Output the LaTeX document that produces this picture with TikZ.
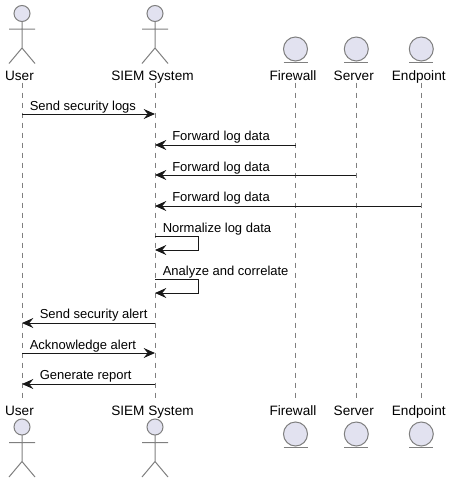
\documentclass[tikz,border=0pt]{standalone}
\usepackage{fontspec}
\setmainfont{Liberation Sans}
\usetikzlibrary{arrows.meta,positioning}

\definecolor{partfill}{HTML}{E2E2F0}
\definecolor{partline}{HTML}{7F7F7F}
\definecolor{msgline}{HTML}{181818}

\begin{document}
\begin{tikzpicture}[
    x=0.75pt, y=-0.75pt,
    partlabel/.style={inner sep=0pt, anchor=base, xshift=-1.9pt, font=\fontsize{10.2}{12}\selectfont},
    msglabel/.style={inner sep=0pt, anchor=base west, font=\fontsize{9.75}{12}\selectfont},
    lifeline/.style={draw=partline, line width=0.75pt, dash pattern=on 3.75pt off 3.75pt},
    msg/.style={draw=msgline, line width=0.75pt, -{Stealth[length=8.5pt, width=7.5pt, inset=3pt]}},
    actor/.pic={
      \draw[draw=partline, fill=partfill, line width=0.75pt] (0,0) circle (8);
      \draw[draw=partline, line width=0.75pt] (0,8) -- (0,34.5) (-13,15.5) -- (13,15.5)
        (-13,50) -- (0,34.5) -- (13,50);
    },
    entity/.pic={
      \draw[draw=partline, fill=partfill, line width=0.75pt] (0,0) circle (12);
      \draw[draw=partline, line width=0.75pt] (-12,13.5) -- (12,13.5);
    },
  ]
  \useasboundingbox (0,0) rectangle (453,483);

  % Participants, top and bottom
  \foreach \name/\xpos/\lbl in {user/22/User, siem/155/SIEM System, firewall/295.5/Firewall, server/356.3/Server, endpoint/421.3/Endpoint} {
    \node[partlabel] (\name top) at (\xpos,80) {\lbl};
    \node[partlabel] (\name bot) at (\xpos,415) {\lbl};
    \coordinate (\name start) at (\xpos,82.5);
    \coordinate (\name end) at (\xpos,398);
    \draw[lifeline] (\name start) -- (\name end);
  }
  \pic at (22,13.5) {actor};
  \pic at (155,13.5) {actor};
  \pic at (22,427) {actor};
  \pic at (155,427) {actor};
  \foreach \xpos in {295.5,356.3,421.3} {
    \pic at (\xpos,49) {entity};
    \pic at (\xpos,434) {entity};
  }

  % Message rows
  \foreach \name/\xpos in {user/22, siem/155, firewall/295.5, server/356.3, endpoint/421.3} {
    \foreach \row/\ypos in {a/114, b/145, c/175, d/206, e/236, f/250, g/279, h/293, i/323, j/353, k/384} {
      \coordinate (\name\row) at (\xpos,\ypos);
    }
  }

  \draw[msg] (usera) -- (siema);
  \node[msglabel] (logs) at (29.5,110) {Send security logs};
  \draw[msg] (firewallb) -- (siemb);
  \node[msglabel] (fwd1) at (172,140) {Forward log data};
  \draw[msg] (serverc) -- (siemc);
  \node[msglabel] (fwd2) at (172,171) {Forward log data};
  \draw[msg] (endpointd) -- (siemd);
  \node[msglabel] (fwd3) at (172,201) {Forward log data};

  % Self messages
  \draw[msg] (sieme) -- ++(43,0) -- ++(0,14) -- (siemf);
  \node[msglabel] (norm) at (162.5,232) {Normalize log data};
  \draw[msg] (siemg) -- ++(43,0) -- ++(0,14) -- (siemh);
  \node[msglabel] (corr) at (162.5,275) {Analyze and correlate};

  \draw[msg] (siemi) -- (useri);
  \node[msglabel] (alert) at (39.5,318) {Send security alert};
  \draw[msg] (userj) -- (siemj);
  \node[msglabel] (ack) at (29.5,349) {Acknowledge alert};
  \draw[msg] (siemk) -- (userk);
  \node[msglabel] (report) at (39.5,379) {Generate report};
\end{tikzpicture}
\end{document}
